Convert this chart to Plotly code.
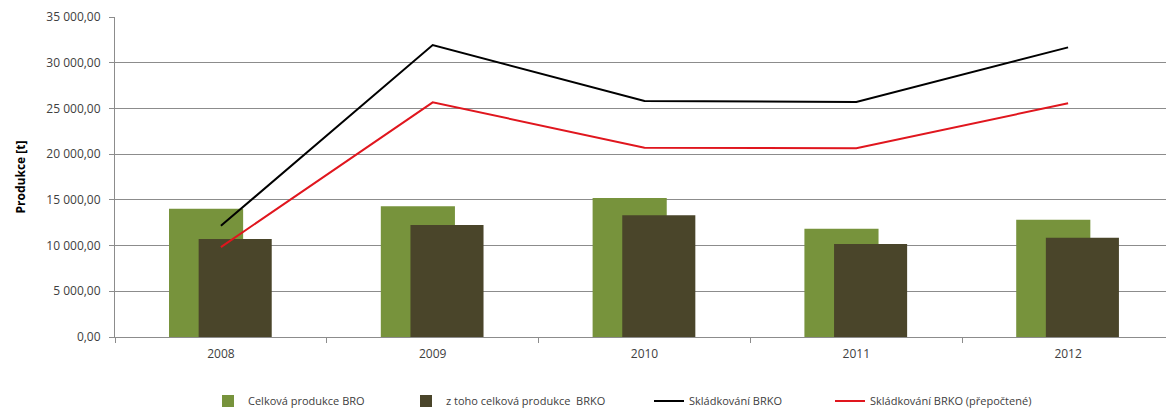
import plotly.graph_objects as go

years = ["2008", "2009", "2010", "2011", "2012"]
bro_total = [14020, 14310, 15190, 11830, 12820]
brko_total = [10710, 12240, 13330, 10160, 10850]
landfill_brko = [12160, 31930, 25810, 25710, 31680]
landfill_brko_recalc = [9830, 25670, 20710, 20650, 25560]

ytick_vals = [0, 5000, 10000, 15000, 20000, 25000, 30000, 35000]
ytick_text = ["0,00", "5 000,00", "10 000,00", "15 000,00", "20 000,00",
              "25 000,00", "30 000,00", "35 000,00"]

FONT = "Open Sans"
TXT = "#404040"
GRID = "#8c8c8c"
W, H = 1166, 408

fig = go.Figure()
fig.add_trace(go.Bar(x=years, y=bro_total, name="Celková produkce BRO",
                     marker=dict(color="#77933C", line=dict(width=0)),
                     width=0.35, offset=-0.245, legend="legend"))
fig.add_trace(go.Bar(x=years, y=brko_total, name="z toho celková produkce  BRKO",
                     marker=dict(color="#4A452A", line=dict(width=0)),
                     width=0.345, offset=-0.105, legend="legend2"))
fig.add_trace(go.Scatter(x=years, y=landfill_brko, name="Skládkování BRKO",
                         mode="lines", line=dict(color="#000000", width=2),
                         legend="legend3"))
fig.add_trace(go.Scatter(x=years, y=landfill_brko_recalc,
                         name="Skládkování BRKO (přepočtené)",
                         mode="lines", line=dict(color="#E0161E", width=2),
                         legend="legend4"))

def leg(px):
    return dict(x=px / W, y=1 - 393 / H, xref="container", yref="container",
                xanchor="left", yanchor="middle", orientation="h",
                bgcolor="rgba(0,0,0,0)", font=dict(family=FONT, size=11, color=TXT))

fig.update_layout(
    width=W, height=H,
    margin=dict(l=107, r=0, t=9, b=79, autoexpand=False),
    paper_bgcolor="white", plot_bgcolor="white",
    barmode="overlay",
    showlegend=True,
    legend=leg(200), legend2=leg(398), legend3=leg(641), legend4=leg(822),
    font=dict(family=FONT, size=11, color=TXT),
)
fig.update_xaxes(type="category", range=[-0.5, 4.5], showline=True,
                 linecolor=GRID, linewidth=1, ticks="outside", tickson="boundaries",
                 ticklen=5, tickcolor=GRID, showgrid=False, ticklabelstandoff=6,
                 tickfont=dict(family=FONT, size=12, color=TXT))
fig.update_yaxes(range=[0, 35000], tickvals=ytick_vals, ticktext=ytick_text,
                 showline=True, linecolor=GRID, linewidth=1, ticks="outside",
                 ticklen=5, tickcolor=GRID, showgrid=True, gridcolor=GRID,
                 gridwidth=1, zeroline=False, ticklabelstandoff=6,
                 tickfont=dict(family=FONT, size=12, color=TXT),
                 title=dict(text="<b>Produkce [t]</b>", standoff=18,
                            font=dict(family=FONT, size=12, color="#000000")))

fig.write_html("out.html")
